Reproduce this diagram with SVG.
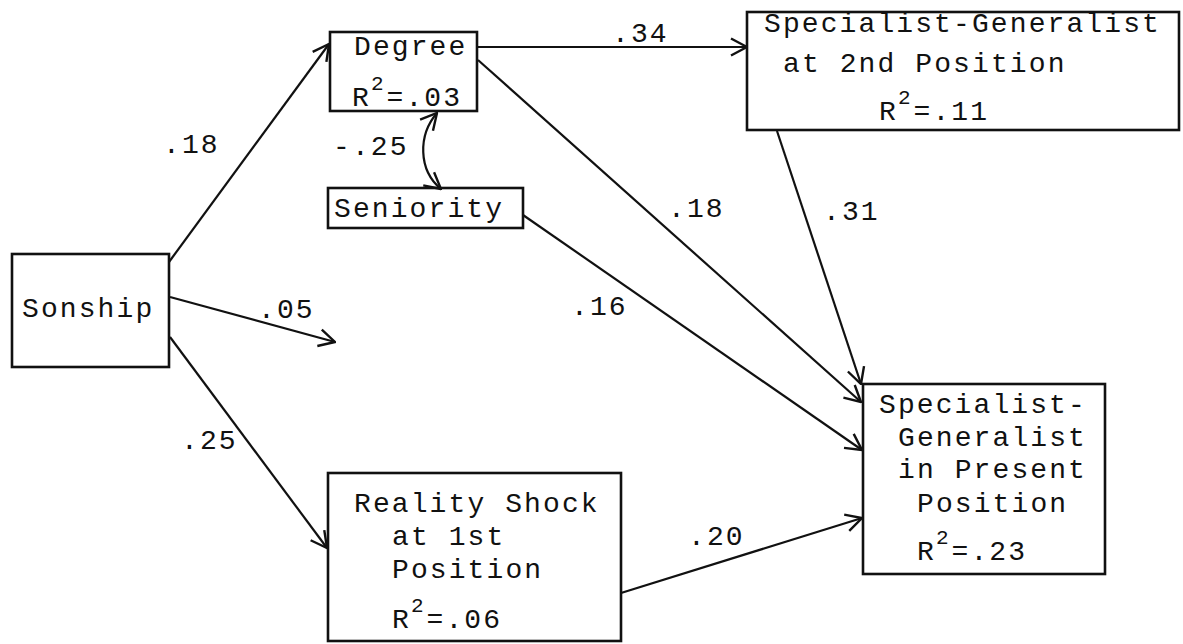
<svg xmlns="http://www.w3.org/2000/svg" width="1183" height="644" viewBox="0 0 1183 644">
<defs>
<style>
.box{fill:none;stroke:#111;stroke-width:2.6}
.t{font-family:"Liberation Mono","DejaVu Sans Mono",monospace;font-size:28px;letter-spacing:2.1px;fill:#111}
.sup{font-size:21px;letter-spacing:0}
.c{fill:none;stroke:#111;stroke-width:2.2}
</style>
<marker id="arr" viewBox="0 0 18 20" refX="17" refY="10" markerWidth="18" markerHeight="20" markerUnits="userSpaceOnUse" orient="auto-start-reverse">
<path d="M1,1.5 L17,10 L1,18.5" fill="none" stroke="#111" stroke-width="2.4"/>
</marker>
</defs>
<rect width="1183" height="644" fill="#fff"/>

<g id="connectors">
<line class="c" x1="169" y1="262" x2="329" y2="44" marker-end="url(#arr)"/>
<line class="c" x1="477" y1="47" x2="747" y2="47" marker-end="url(#arr)"/>
<line class="c" x1="478" y1="60" x2="861" y2="402" marker-end="url(#arr)"/>
<line class="c" x1="777" y1="131" x2="861" y2="384" marker-end="url(#arr)"/>
<line class="c" x1="523" y1="215" x2="862" y2="450" marker-end="url(#arr)"/>
<line class="c" x1="621" y1="593" x2="862" y2="518" marker-end="url(#arr)"/>
<line class="c" x1="170" y1="297" x2="335" y2="342" marker-end="url(#arr)"/>
<line class="c" x1="170" y1="337" x2="327" y2="548" marker-end="url(#arr)"/>
<path class="c" d="M437,113 C418,135 418,170 441,189" stroke-width="2.6" marker-start="url(#arr)" marker-end="url(#arr)"/>
<text class="t" x="612" y="42">.34</text>
<text class="t" x="163" y="153">.18</text>
<text class="t" x="333" y="155">-.25</text>
<text class="t" x="668" y="217">.18</text>
<text class="t" x="823" y="220">.31</text>
<text class="t" x="258" y="318">.05</text>
<text class="t" x="571" y="315">.16</text>
<text class="t" x="181" y="449">.25</text>
<text class="t" x="688" y="545">.20</text>
</g>

<g id="degree">
<rect class="box" x="330" y="32" width="147" height="79"/>
<text class="t" x="354" y="55">Degree</text>
<text class="t" x="352" y="106">R<tspan class="sup" dy="-16" dx="0">2</tspan><tspan dy="16" dx="3">=.03</tspan></text>
</g>

<g id="seniority">
<rect class="box" x="328" y="188" width="195" height="40"/>
<text class="t" x="334" y="217">Seniority</text>
</g>

<g id="sg2">
<rect class="box" x="747" y="12" width="432" height="118"/>
<text class="t" x="764" y="32">Specialist-Generalist</text>
<text class="t" x="783" y="72">at 2nd Position</text>
<text class="t" x="879" y="120">R<tspan class="sup" dy="-16" dx="0">2</tspan><tspan dy="16" dx="3">=.11</tspan></text>
</g>

<g id="sonship">
<rect class="box" x="12" y="254" width="157" height="113"/>
<text class="t" x="22" y="317">Sonship</text>
</g>

<g id="reality">
<rect class="box" x="328" y="473" width="293" height="168"/>
<text class="t" x="354" y="512">Reality Shock</text>
<text class="t" x="392" y="545">at 1st</text>
<text class="t" x="392" y="578">Position</text>
<text class="t" x="392" y="628">R<tspan class="sup" dy="-16" dx="0">2</tspan><tspan dy="16" dx="3">=.06</tspan></text>
</g>

<g id="present">
<rect class="box" x="863" y="384" width="242" height="190"/>
<text class="t" x="879" y="413">Specialist-</text>
<text class="t" x="898" y="446">Generalist</text>
<text class="t" x="898" y="478">in Present</text>
<text class="t" x="917" y="512">Position</text>
<text class="t" x="917" y="560">R<tspan class="sup" dy="-16" dx="0">2</tspan><tspan dy="16" dx="3">=.23</tspan></text>
</g>
</svg>
